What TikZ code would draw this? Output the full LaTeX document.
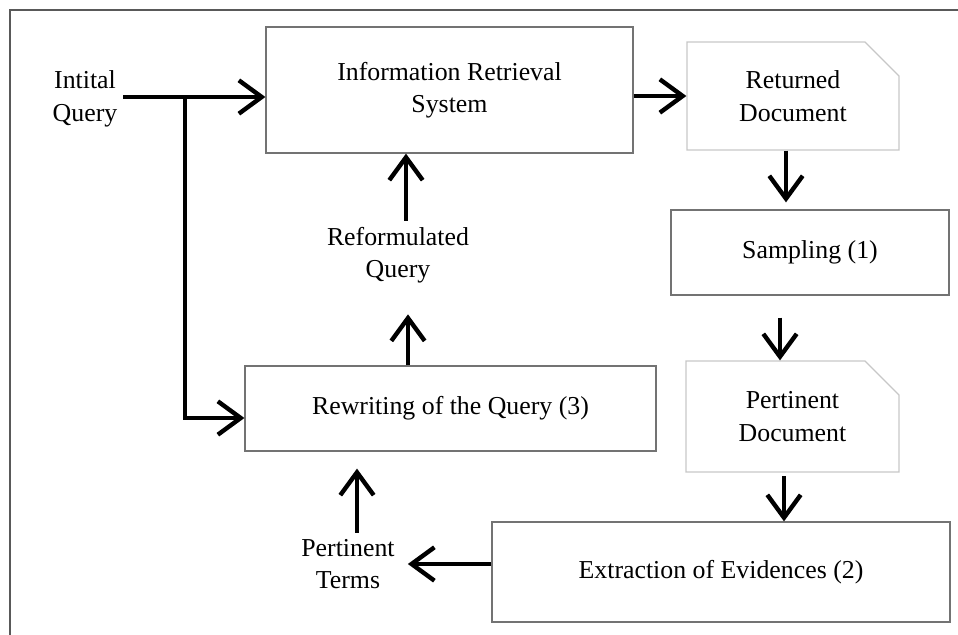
\documentclass[tikz,border=0pt]{standalone}
\usepackage{fontspec}
\setmainfont{Liberation Serif}
\usetikzlibrary{positioning,shapes.misc,arrows.meta}

\begin{document}
\begin{tikzpicture}[x=0.02cm,y=-0.02cm,
    every node/.style={font=\fontsize{14.7}{18.5}\selectfont,align=center},
    box/.style={draw=black!55,line width=0.7pt,inner sep=0pt},
    doc/.style={draw=black!22,line width=0.7pt,inner sep=0pt,chamfered rectangle,
      chamfered rectangle corners=north east,
      chamfered rectangle xsep=0.34cm,chamfered rectangle ysep=0.34cm},
    flow/.style={line width=2.5pt,-{Straight Barb[length=13pt,width=19pt,line width=2.5pt]}}]
  \useasboundingbox (0,0) rectangle (958,635);
  \draw[black!65,line width=0.8pt] (10,635) -- (10,10) -- (958,10);

  % boxes
  \node[box,minimum width=7.34cm,minimum height=2.52cm] (irs) at (449.5,90) {Information Retrieval\\System};
  \node[doc,minimum width=4.24cm,minimum height=2.16cm] (returned) at (793,96) {Returned\\Document};
  \node[box,minimum width=5.56cm,minimum height=1.7cm] (sampling) at (810,252.5) {Sampling (1)};
  \node[doc,minimum width=4.26cm,minimum height=2.22cm] (pdoc) at (792.5,416.5) {Pertinent\\Document};
  \node[box,minimum width=9.16cm,minimum height=2cm] (extract) at (721,572) {Extraction of Evidences (2)};
  \node[box,minimum width=8.22cm,minimum height=1.7cm] (rewrite) at (450.5,408.5) {Rewriting of the Query (3)};

  % free labels
  \node (init) at (85,99) {Intital\\Query};
  \node (reform) at (398,255) {Reformulated\\Query};
  \node (terms) at (348,564) {Pertinent\\Terms};

  % arrows
  \coordinate (split) at (185,97);
  \draw[flow] (init.east |- split) -- (irs.west |- split);
  \draw[flow] (split) |- ([yshift=-0.19cm]rewrite.west);
  \draw[flow] (irs.east |- returned.west) -- (returned.west);
  \draw[flow,shorten >=4pt] ([xshift=-0.14cm]returned.south) -- ([xshift=-0.14cm]returned.south |- sampling.north);
  \draw[flow,shorten <=0.44cm] ([xshift=-0.25cm]pdoc.north |- sampling.south) -- ([xshift=-0.25cm]pdoc.north);
  \draw[flow,shorten <=2pt] ([xshift=-0.17cm]pdoc.south) -- ([xshift=-0.17cm]pdoc.south |- extract.north);
  \draw[flow,shorten >=4pt] (extract.west |- terms) -- (terms.east);
  \draw[flow,shorten >=0.34cm] ([xshift=0.18cm]terms.north) -- ([xshift=0.18cm]terms.north |- rewrite.south);
  \draw[flow,shorten >=0.5cm] ([xshift=0.2cm]reform.south |- rewrite.north) -- ([xshift=0.2cm]reform.south);
  \draw[flow] ([xshift=0.16cm]reform.north) -- ([xshift=0.16cm]reform.north |- irs.south);
\end{tikzpicture}
\end{document}
